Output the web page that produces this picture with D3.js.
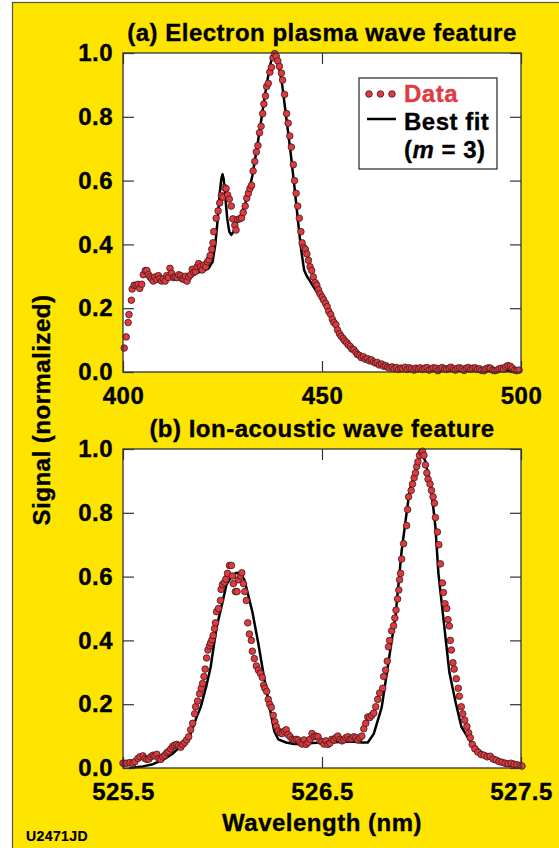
<!DOCTYPE html>
<meta charset="utf-8">
<style>
body { margin: 0; background: #fff; }
text { font-family: "Liberation Sans", Arial, Helvetica, sans-serif; font-weight: bold; stroke: currentColor; stroke-width: 0.35px; }
</style>
<svg width="559" height="848"></svg>
<script src="https://d3js.org/d3.v7.min.js"></script>
<script>

// ---- data ----
var titleA = "(a) Electron plasma wave feature",
    titleB = "(b) Ion-acoustic wave feature";
var yTicks = [0, 0.2, 0.4, 0.6, 0.8, 1.0];
var xTicksA = [400, 450, 500],
    xTicksB = [525.5, 526.5, 527.5];

// panel (a): wavelength (nm), normalized signal
var dataA = [
  [400.3,0.075],[400.8,0.11],[401.3,0.155],[401.5,0.18],[402.1,0.225],[402.3,0.26],[402.8,0.272],
  [403.3,0.272],[403.8,0.275],[404.2,0.262],[404.7,0.275],[405.1,0.305],[405.6,0.318],[406.0,0.318],
  [406.4,0.305],[406.8,0.298],[407.2,0.292],[407.6,0.285],[408.0,0.298],[408.5,0.29],[408.9,0.302],
  [409.3,0.293],[409.7,0.285],[410.1,0.292],[410.6,0.285],[411.0,0.302],[411.4,0.296],[411.8,0.325],
  [412.2,0.31],[412.7,0.296],[413.1,0.298],[413.6,0.296],[414.0,0.305],[414.5,0.302],[414.9,0.292],
  [415.3,0.29],[415.7,0.3],[416.1,0.285],[416.5,0.298],[417.0,0.305],[417.4,0.322],[417.8,0.312],
  [418.2,0.315],[418.6,0.33],[419.0,0.34],[419.5,0.33],[419.9,0.32],[420.3,0.335],[420.8,0.33],
  [421.2,0.345],[421.6,0.352],[421.9,0.365],[422.3,0.385],[422.6,0.405],[422.8,0.44],[423.4,0.482],
  [423.9,0.505],[424.3,0.53],[424.7,0.553],[425.1,0.548],[425.5,0.578],[425.9,0.575],[426.3,0.555],
  [426.7,0.542],[427.2,0.52],[427.6,0.48],[428.1,0.46],[428.4,0.445],[428.8,0.478],[429.3,0.48],
  [429.8,0.483],[430.2,0.5],[430.7,0.52],[431.1,0.545],[431.5,0.56],[431.9,0.575],[432.3,0.585],
  [432.7,0.63],[433.1,0.66],[433.5,0.69],[433.9,0.71],[434.3,0.75],[434.7,0.77],[435.1,0.81],
  [435.4,0.84],[435.8,0.865],[436.1,0.895],[436.5,0.905],[436.9,0.94],[437.3,0.955],[437.7,0.985],
  [438.1,0.998],[438.5,0.99],[438.9,0.975],[439.3,0.958],[439.8,0.937],[440.1,0.915],[440.6,0.87],
  [441.1,0.81],[441.5,0.78],[441.9,0.74],[442.3,0.705],[442.8,0.65],[443.1,0.6],[443.5,0.56],
  [443.9,0.52],[444.3,0.482],[444.7,0.44],[445.0,0.405],[445.4,0.39],[445.8,0.385],[446.2,0.37],
  [446.6,0.35],[447.0,0.33],[447.4,0.318],[447.8,0.298],[448.3,0.28],[448.7,0.272],[449.1,0.258],
  [449.5,0.245],[450.0,0.235],[450.4,0.226],[450.9,0.215],[451.3,0.205],[451.7,0.19],[452.2,0.18],
  [452.6,0.165],[453.0,0.155],[453.5,0.148],[453.9,0.132],[454.4,0.12],[454.8,0.112],[455.3,0.105],
  [455.7,0.098],[456.2,0.092],[456.6,0.085],[457.1,0.08],[457.5,0.072],[458.0,0.07],[458.5,0.062],
  [458.9,0.055],[459.4,0.052],[459.9,0.045],[460.4,0.048],[460.9,0.04],[461.4,0.042],[461.9,0.035],
  [462.4,0.038],[462.9,0.032],[463.4,0.028],[463.9,0.03],[464.4,0.022],[465.0,0.025],[465.5,0.018],
  [466.0,0.02],[466.5,0.015],[467.0,0.012],[467.6,0.016],[468.1,0.01],[468.7,0.014],[469.2,0.008],
  [469.8,0.012],[470.3,0.01],[470.9,0.015],[471.4,0.008],[472.0,0.013],[472.5,0.01],[473.1,0.006],
  [473.6,0.012],[474.2,0.01],[474.7,0.013],[475.3,0.008],[475.8,0.012],[476.4,0.014],[476.9,0.006],
  [477.5,0.01],[478.0,0.013],[478.6,0.012],[479.1,0.004],[479.7,0.011],[480.2,0.014],[480.8,0.01],
  [481.3,0.008],[481.9,0.012],[482.4,0.015],[483.0,0.01],[483.5,0.006],[484.1,0.012],[484.6,0.013],
  [485.2,0.01],[485.7,0.005],[486.3,0.012],[486.8,0.014],[487.4,0.009],[487.9,0.012],[488.5,0.013],
  [489.0,0.008],[489.6,0.01],[490.1,0.005],[490.7,0.004],[491.2,0.01],[491.8,0.013],[492.3,0.012],
  [492.9,0.006],[493.4,0.004],[494.0,0.006],[494.5,0.01],[495.1,0.012],[495.6,0.009],[496.2,0.016],
  [496.7,0.02],[497.3,0.018],[497.8,0.012],[498.4,0.006],[498.9,0.004],[499.5,0.006]
];

var fitA = [
  [416.0,0.305],[418.0,0.31],[420.0,0.315],[421.5,0.325],[422.5,0.345],[423.2,0.4],[423.8,0.48],
  [424.3,0.56],[424.7,0.605],[425.0,0.62],[425.3,0.605],[425.7,0.55],[426.2,0.48],[426.7,0.44],
  [427.2,0.43],[427.8,0.44],[428.5,0.465],[429.5,0.49],[430.5,0.52],[431.5,0.56],[432.5,0.615],
  [433.5,0.69],[434.5,0.77],[435.5,0.855],[436.5,0.93],[437.3,0.98],[437.9,1.0],[438.5,0.99],
  [439.2,0.955],[440.0,0.9],[441.0,0.8],[442.0,0.7],[443.0,0.59],[444.0,0.47],[444.8,0.38],
  [445.5,0.32],[446.2,0.3],[447.0,0.285],[448.0,0.265],[449.0,0.245],[450.0,0.228],[451.0,0.205],
  [452.0,0.18],[453.0,0.155],[454.0,0.13],[455.0,0.11],[456.0,0.092],[457.0,0.078],[458.0,0.065],
  [459.0,0.055],[460.0,0.046],[462.0,0.033],[464.0,0.024],[466.0,0.017],[468.0,0.012],[470.0,0.009],
  [475.0,0.006],[480.0,0.005],[490.0,0.004],[500.0,0.004]
];

// panel (b)
var dataB = [
  [525.50,0.015],[525.51,0.015],[525.52,0.015],[525.535,0.017],[525.55,0.015],[525.56,0.02],
  [525.575,0.03],[525.585,0.035],[525.60,0.038],[525.61,0.03],[525.62,0.027],[525.63,0.028],
  [525.64,0.035],[525.65,0.04],[525.66,0.038],[525.67,0.043],[525.68,0.03],[525.69,0.027],
  [525.70,0.035],[525.71,0.04],[525.72,0.048],[525.73,0.052],[525.74,0.06],[525.75,0.068],
  [525.76,0.072],[525.77,0.074],[525.78,0.07],[525.79,0.065],[525.80,0.074],[525.81,0.08],
  [525.82,0.088],[525.83,0.098],[525.84,0.12],[525.85,0.14],[525.86,0.17],[525.865,0.192],
  [525.875,0.21],[525.885,0.233],[525.893,0.25],[525.90,0.265],[525.907,0.287],[525.913,0.31],
  [525.92,0.345],[525.927,0.37],[525.935,0.383],[525.94,0.392],[525.947,0.402],[525.953,0.415],
  [525.96,0.437],[525.965,0.455],[525.97,0.49],[525.98,0.5],[525.99,0.525],[525.993,0.56],
  [526.0,0.575],[526.01,0.582],[526.017,0.592],[526.025,0.61],[526.035,0.635],[526.045,0.635],
  [526.05,0.602],[526.055,0.578],[526.065,0.553],[526.073,0.553],[526.08,0.59],[526.09,0.602],
  [526.097,0.612],[526.105,0.578],[526.112,0.553],[526.12,0.525],[526.127,0.455],[526.135,0.42],
  [526.145,0.4],[526.15,0.366],[526.16,0.343],[526.17,0.32],[526.18,0.307],[526.19,0.297],
  [526.2,0.284],[526.207,0.26],[526.213,0.25],[526.222,0.24],[526.23,0.215],[526.237,0.2],
  [526.245,0.19],[526.255,0.165],[526.263,0.145],[526.27,0.13],[526.28,0.116],[526.29,0.11],
  [526.3,0.108],[526.31,0.115],[526.32,0.12],[526.33,0.105],[526.34,0.098],[526.35,0.09],
  [526.36,0.088],[526.37,0.09],[526.38,0.088],[526.39,0.08],[526.40,0.075],[526.41,0.088],
  [526.42,0.074],[526.43,0.08],[526.44,0.09],[526.45,0.108],[526.46,0.098],[526.47,0.1],
  [526.48,0.098],[526.49,0.085],[526.50,0.082],[526.51,0.075],[526.52,0.085],[526.53,0.074],
  [526.54,0.078],[526.55,0.09],[526.56,0.088],[526.57,0.095],[526.58,0.1],[526.59,0.09],
  [526.60,0.085],[526.61,0.088],[526.62,0.095],[526.63,0.098],[526.64,0.09],[526.65,0.092],
  [526.66,0.098],[526.67,0.095],[526.68,0.088],[526.69,0.095],[526.70,0.1],[526.71,0.123],
  [526.72,0.14],[526.73,0.16],[526.74,0.158],[526.75,0.165],[526.76,0.172],[526.77,0.192],
  [526.78,0.215],[526.79,0.235],[526.805,0.25],[526.81,0.287],[526.82,0.307],[526.828,0.335],
  [526.834,0.38],[526.84,0.4],[526.85,0.43],[526.86,0.446],[526.866,0.47],[526.872,0.495],
  [526.88,0.53],[526.886,0.558],[526.89,0.59],[526.895,0.61],[526.9,0.655],[526.91,0.703],
  [526.925,0.76],[526.93,0.81],[526.935,0.85],[526.948,0.87],[526.955,0.89],[526.963,0.91],
  [526.97,0.925],[526.976,0.945],[526.982,0.96],[526.99,0.98],[527.0,0.99],[527.005,0.993],
  [527.012,0.98],[527.02,0.95],[527.027,0.925],[527.033,0.905],[527.043,0.89],[527.05,0.87],
  [527.058,0.85],[527.065,0.83],[527.07,0.785],[527.08,0.74],[527.087,0.7],[527.095,0.64],
  [527.105,0.58],[527.11,0.55],[527.118,0.515],[527.127,0.5],[527.133,0.465],[527.14,0.445],
  [527.145,0.4],[527.15,0.37],[527.158,0.33],[527.164,0.31],[527.175,0.28],[527.185,0.25],
  [527.19,0.225],[527.2,0.192],[527.207,0.17],[527.217,0.15],[527.228,0.13],[527.237,0.11],
  [527.245,0.095],[527.255,0.074],[527.268,0.06],[527.283,0.05],[527.3,0.042],[527.315,0.04],
  [527.33,0.035],[527.345,0.037],[527.36,0.028],[527.375,0.025],[527.39,0.02],[527.405,0.018],
  [527.42,0.015],[527.435,0.013],[527.45,0.015],[527.465,0.012],[527.48,0.01],[527.495,0.008],
  [527.505,0.006]
];

var fitB = [
  [525.53,0.0],[525.6,0.005],[525.65,0.012],[525.7,0.025],[525.75,0.045],[525.8,0.075],
  [525.84,0.107],[525.87,0.16],[525.89,0.19],[525.92,0.26],[525.94,0.315],[525.97,0.44],
  [526.0,0.52],[526.02,0.575],[526.05,0.605],[526.07,0.612],[526.09,0.61],[526.11,0.59],
  [526.13,0.54],[526.15,0.49],[526.18,0.39],[526.21,0.28],[526.24,0.18],[526.26,0.115],
  [526.28,0.09],[526.32,0.08],[526.36,0.075],[526.4,0.075],[526.45,0.078],[526.5,0.08],
  [526.55,0.08],[526.6,0.082],[526.65,0.083],[526.7,0.08],[526.73,0.08],[526.76,0.107],
  [526.8,0.19],[526.83,0.315],[526.87,0.48],[526.9,0.68],[526.94,0.87],[526.98,0.955],
  [527.0,0.99],[527.02,0.96],[527.05,0.87],[527.07,0.755],[527.085,0.61],[527.11,0.47],
  [527.14,0.30],[527.17,0.21],[527.2,0.13],[527.24,0.088],[527.29,0.055],[527.35,0.03],
  [527.42,0.008],[527.5,0.003]
];

// ---- drawing ----
var svg = d3.select("svg");
var yellow = "#fde500",
    dotFill = "#e0393f",
    frameCol = "#333";

// yellow backdrop with thin frame on left / top
svg.append("rect")
    .attr("x", 12.5).attr("y", 2.5)
    .attr("width", 560).attr("height", 860)
    .attr("fill", yellow)
    .attr("stroke", "#555").attr("stroke-width", 1.2);

var left = 123, right = 521;

function drawPanel(data, fit, xDomain, xTicks, xFmt, top, bottom, title) {
  var x = d3.scaleLinear().domain(xDomain).range([left, right]);
  var y = d3.scaleLinear().domain([0, 1]).range([bottom, top]);
  var g = svg.append("g");

  g.append("rect")
      .attr("x", left).attr("y", top)
      .attr("width", right - left).attr("height", bottom - top)
      .attr("fill", "#fff");

  // axes: inward ticks, labels outside
  g.append("g").attr("transform", "translate(" + left + ",0)")
      .call(d3.axisLeft(y).tickValues(yTicks).tickSize(-11).tickPadding(10).tickFormat(d3.format(".1f")));
  g.append("g").attr("transform", "translate(" + right + ",0)")
      .call(d3.axisRight(y).tickValues(yTicks).tickSize(-11).tickFormat(""));
  g.append("g").attr("transform", "translate(0," + bottom + ")")
      .call(d3.axisBottom(x).tickValues(xTicks).tickSize(-11).tickPadding(15).tickFormat(xFmt));
  g.append("g").attr("transform", "translate(0," + top + ")")
      .call(d3.axisTop(x).tickValues(xTicks).tickSize(-11).tickFormat(""));

  g.selectAll(".domain").remove();
  g.selectAll(".tick line").attr("stroke", frameCol).attr("stroke-width", 1.2);
  g.selectAll(".tick text")
      .attr("fill", "#000")
      .style("font-size", "24px")
      .style("letter-spacing", "0.5px");

  // fit line
  var line = d3.line().x(function(d) { return x(d[0]); }).y(function(d) { return y(d[1]); });
  g.append("path")
      .datum(fit)
      .attr("d", line)
      .attr("fill", "none")
      .attr("stroke", "#000")
      .attr("stroke-width", 2.5)
      .attr("stroke-linejoin", "round");

  // data dots
  g.append("g").selectAll("circle")
      .data(data)
      .enter().append("circle")
      .attr("cx", function(d) { return x(d[0]); })
      .attr("cy", function(d) { return y(d[1]); })
      .attr("r", 3.3)
      .attr("fill", dotFill)
      .attr("stroke", "#3b1b1b")
      .attr("stroke-width", 0.8);

  g.append("rect")
      .attr("x", left).attr("y", top)
      .attr("width", right - left).attr("height", bottom - top)
      .attr("fill", "none")
      .attr("stroke", frameCol).attr("stroke-width", 1.3);

  g.append("text")
      .attr("x", (left + right) / 2).attr("y", top - 12)
      .attr("text-anchor", "middle")
      .style("font-size", "24px")
      .style("letter-spacing", "0.5px")
      .text(title);
}

drawPanel(dataA, fitA, [400, 500], xTicksA, d3.format("d"), 53, 372, titleA);
drawPanel(dataB, fitB, [525.5, 527.5], xTicksB, d3.format(".1f"), 449, 768, titleB);

// legend in panel (a)
var lg = svg.append("g");
lg.append("rect")
    .attr("x", 359).attr("y", 78).attr("width", 138).attr("height", 91)
    .attr("fill", "#fff").attr("stroke", frameCol).attr("stroke-width", 1.3);
lg.selectAll("circle").data([369, 380.5, 392]).enter().append("circle")
    .attr("cx", function(d) { return d; }).attr("cy", 94)
    .attr("r", 3.3).attr("fill", dotFill).attr("stroke", "#3b1b1b").attr("stroke-width", 0.8);
lg.append("text").attr("x", 404).attr("y", 102).attr("fill", "#e23a44").style("color", "#e23a44")
    .style("font-size", "24px").style("letter-spacing", "0.5px").text("Data");
lg.append("line").attr("x1", 367).attr("x2", 396).attr("y1", 119).attr("y2", 119)
    .attr("stroke", "#000").attr("stroke-width", 2.5);
lg.append("text").attr("x", 404).attr("y", 130)
    .style("font-size", "24px").style("letter-spacing", "0.5px").text("Best fit");
var m = lg.append("text").attr("x", 404).attr("y", 158)
    .style("font-size", "24px").style("letter-spacing", "0.5px");
m.append("tspan").text("(");
m.append("tspan").style("font-style", "italic").text("m");
m.append("tspan").text(" = 3)");

// axis titles
svg.append("text")
    .attr("transform", "translate(50,410) rotate(-90)")
    .attr("text-anchor", "middle")
    .style("font-size", "24px").style("letter-spacing", "0.5px")
    .text("Signal (normalized)");
svg.append("text")
    .attr("x", 322).attr("y", 831)
    .attr("text-anchor", "middle")
    .style("font-size", "24px").style("letter-spacing", "0.5px")
    .text("Wavelength (nm)");
svg.append("text")
    .attr("x", 26).attr("y", 841)
    .style("font-size", "14px").style("letter-spacing", "0.4px").style("stroke-width", "0.2px")
    .text("U2471JD");

</script>
